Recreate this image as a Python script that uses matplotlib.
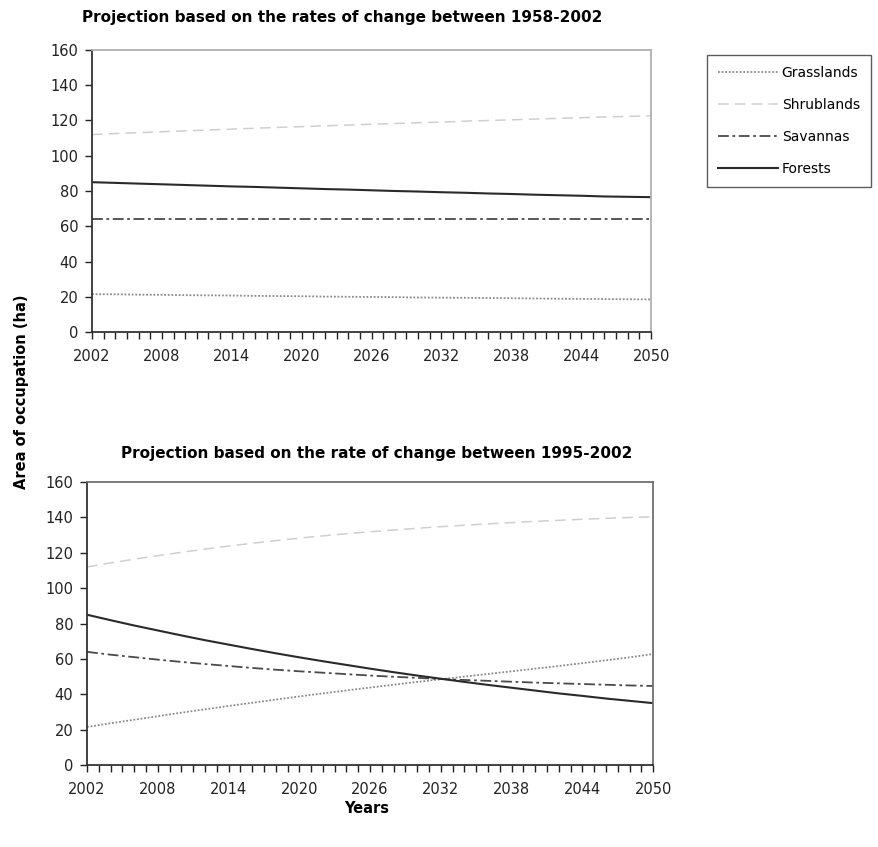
import matplotlib.pyplot as plt
from matplotlib.ticker import MultipleLocator, FixedLocator
from matplotlib.lines import Line2D

plt.rcParams['font.family'] = ['DejaVu Sans']

# years (every 2 years, 2002-2050)
years = list(range(2002, 2051, 2))
tick_years = list(range(2002, 2051, 6))

# projection from 1958-2002 rates
top_grass = [21.5, 21.4, 21.2, 21.1, 20.9, 20.8, 20.7, 20.5, 20.4, 20.3, 20.1, 20.0, 19.9,
             19.8, 19.6, 19.5, 19.4, 19.3, 19.2, 19.0, 18.9, 18.8, 18.7, 18.6, 18.5]
top_shrub = [112.0, 112.6, 113.1, 113.6, 114.1, 114.6, 115.1, 115.6, 116.1, 116.5, 117.0, 117.4,
             117.9, 118.3, 118.7, 119.1, 119.6, 120.0, 120.4, 120.8, 121.2, 121.6, 122.0, 122.3, 122.7]
top_sav = [64.0] * 25
top_forest = [85.0, 84.6, 84.2, 83.8, 83.4, 83.0, 82.6, 82.3, 81.9, 81.5, 81.1, 80.8, 80.4,
              80.0, 79.7, 79.3, 79.0, 78.6, 78.3, 77.9, 77.6, 77.3, 76.9, 76.7, 76.5]

# projection from 1995-2002 rates
bot_grass = [21.5, 23.6, 25.6, 27.6, 29.6, 31.5, 33.4, 35.2, 37.0, 38.8, 40.5, 42.2, 43.8,
             45.4, 47.0, 48.5, 50.0, 51.5, 53.0, 54.5, 56.0, 57.6, 59.2, 60.9, 62.8]
bot_shrub = [112.0, 114.3, 116.4, 118.4, 120.3, 122.1, 123.8, 125.4, 126.9, 128.3, 129.6, 130.8,
             131.9, 132.9, 133.9, 134.8, 135.6, 136.4, 137.1, 137.8, 138.4, 139.0, 139.5, 140.0, 140.4]
bot_sav = [64.0, 62.4, 61.0, 59.6, 58.3, 57.1, 56.0, 54.9, 53.9, 53.0, 52.2, 51.4, 50.6,
           49.9, 49.3, 48.6, 48.1, 47.6, 47.1, 46.6, 46.2, 45.8, 45.4, 45.0, 44.7]
bot_forest = [85.0, 81.9, 78.9, 76.1, 73.3, 70.6, 68.1, 65.6, 63.2, 60.9, 58.7, 56.6, 54.5,
              52.5, 50.6, 48.8, 47.0, 45.3, 43.7, 42.1, 40.5, 39.1, 37.6, 36.3, 35.0]

names = ["Grasslands", "Shrublands", "Savannas", "Forests"]
styles = [
    dict(color="#8a8a8a", linestyle=(0, (1, 1)), linewidth=1.3),
    dict(color="#cfcfcf", linestyle=(0, (7, 4)), linewidth=1.1),
    dict(color="#4a4a4a", linestyle=(0, (6, 2, 1.5, 2)), linewidth=1.3),
    dict(color="#2a2a2a", linestyle="-", linewidth=1.5),
]

fig = plt.figure(figsize=(8.79, 8.47), dpi=100)
ax1 = fig.add_axes([0.1047, 0.608, 0.636, 0.333])
ax2 = fig.add_axes([0.099, 0.0968, 0.644, 0.334])


def style_axis(ax, series, edge):
    for s, st in zip(series, styles):
        ax.plot(years, s, **st)
    ax.set_xlim(2002, 2050)
    ax.set_ylim(0, 160)
    ax.yaxis.set_major_locator(MultipleLocator(20))
    ax.xaxis.set_major_locator(FixedLocator(tick_years))
    ax.xaxis.set_minor_locator(MultipleLocator(1))
    ax.tick_params(axis="both", which="both", direction="out", colors="#222222",
                   labelsize=10.5, width=1)
    ax.tick_params(axis="x", which="major", length=5, pad=7)
    ax.tick_params(axis="x", which="minor", length=5)
    ax.tick_params(axis="y", length=5, pad=5)
    ax.spines["left"].set_color("#333333")
    ax.spines["bottom"].set_color("#333333")
    ax.spines["left"].set_linewidth(1.3)
    ax.spines["bottom"].set_linewidth(1.3)
    for side in ("top", "right"):
        ax.spines[side].set_color(edge)
        ax.spines[side].set_linewidth(1.3)


style_axis(ax1, [top_grass, top_shrub, top_sav, top_forest], "#b0b0b0")
style_axis(ax2, [bot_grass, bot_shrub, bot_sav, bot_forest], "#707070")

fig.text(0.389, 0.979, "Projection based on the rates of change between 1958-2002",
         ha="center", va="center", fontsize=11, fontweight="bold")
fig.text(0.429, 0.464, "Projection based on the rate of change between 1995-2002",
         ha="center", va="center", fontsize=11, fontweight="bold")

fig.text(0.025, 0.538, "Area of occupation (ha)", rotation=90, ha="center", va="center",
         fontsize=10.5, fontweight="bold")
fig.text(0.4175, 0.046, "Years", ha="center", va="center", fontsize=10.5, fontweight="bold")

handles = [Line2D([], [], **st) for st in styles]
leg = fig.legend(handles, names, loc="upper left", bbox_to_anchor=(0.804, 0.935),
                 frameon=True, fancybox=False, edgecolor="#333333", fontsize=10,
                 handlelength=4.3, handletextpad=0.3, labelspacing=1.3,
                 borderpad=0.8, borderaxespad=0)
leg.get_frame().set_linewidth(1.0)

fig.savefig("out.png", dpi=100)
